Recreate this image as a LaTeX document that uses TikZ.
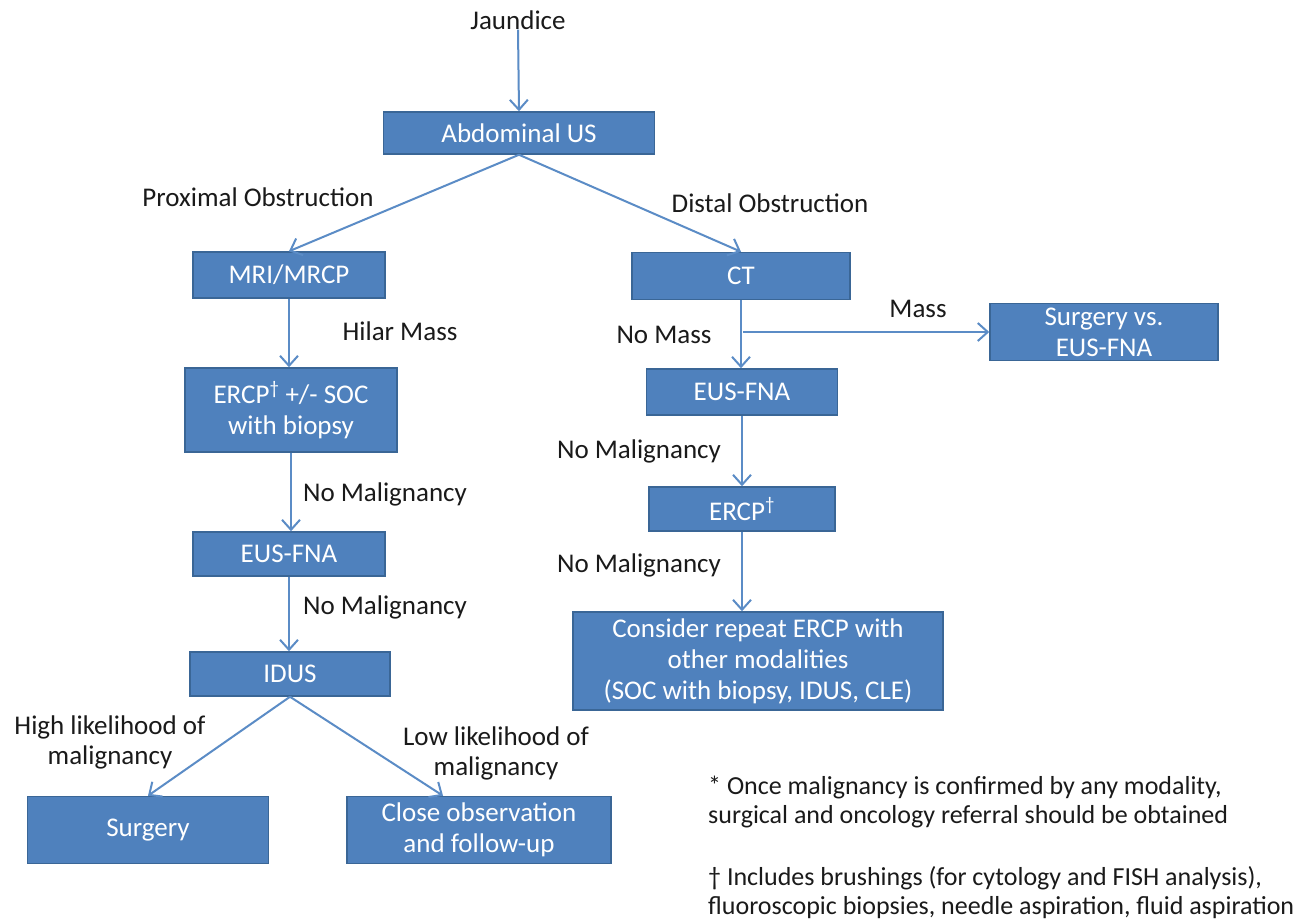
\documentclass[tikz,border=0pt]{standalone}
\usepackage{fontspec}
\setmainfont{Carlito}
\usetikzlibrary{arrows.meta}
\definecolor{boxfill}{HTML}{4F81BD}
\definecolor{boxline}{HTML}{3A6696}
\definecolor{arrowcol}{HTML}{5B8CC6}
\definecolor{labcol}{HTML}{1A1A1A}
\tikzset{
  flowbox/.style={draw=boxline, line width=1.5pt, fill=boxfill, text=white,
    inner sep=0pt, align=center, font=\fontsize{27}{31}\selectfont},
  lab/.style={text=labcol, inner sep=0pt, align=center, font=\fontsize{27}{30}\selectfont},
  note/.style={text=labcol, inner sep=0pt, align=left, anchor=west, font=\fontsize{26}{30}\selectfont},
  conn/.style={draw=arrowcol, line width=2pt, -{Straight Barb[length=10pt,width=18pt,line width=2pt]}},
  plain/.style={draw=arrowcol, line width=2pt}
}
\begin{document}
\begin{tikzpicture}[x=1pt,y=-1pt]
\useasboundingbox[fill=white] (0,0) rectangle (1296,922);
% title
\node[lab] (jaund) at (518,20) {Jaundice};
% boxes
\node[flowbox, minimum width=271pt, minimum height=42pt] (abd) at (519,133) {Abdominal US};
\node[flowbox, minimum width=192pt, minimum height=46pt] (mri) at (289,275) {MRI/MRCP};
\node[flowbox, minimum width=218pt, minimum height=47pt] (ct) at (741,276) {CT};
\node[flowbox, minimum width=212pt, minimum height=84pt] (ercpl) at (291,410) {ERCP\textsuperscript{†} +/- SOC\\with biopsy};
\node[flowbox, minimum width=192pt, minimum height=44pt] (eusl) at (289,554) {EUS-FNA};
\node[flowbox, minimum width=200pt, minimum height=44pt] (idus) at (290,674) {IDUS};
\node[flowbox, minimum width=241pt, minimum height=67pt] (surg) at (148,830) {Surgery};
\node[flowbox, minimum width=264pt, minimum height=67pt] (close) at (479,830) {Close observation\\and follow-up};
\node[flowbox, minimum width=228pt, minimum height=57pt] (svs) at (1104,332) {Surgery vs.\\EUS-FNA};
\node[flowbox, minimum width=191pt, minimum height=46pt] (eusr) at (742,392) {EUS-FNA};
\node[flowbox, minimum width=186pt, minimum height=44pt] (ercpr) at (742,509) {ERCP\textsuperscript{†}};
\node[flowbox, minimum width=370pt, minimum height=98pt] (cons) at (758,661) {Consider repeat ERCP with\\other modalities\\(SOC with biopsy, IDUS, CLE)};
% labels
\node[lab] (lprox) at (258,197) {Proximal Obstruction};
\node[lab] (ldist) at (770,203) {Distal Obstruction};
\node[lab] (lhilar) at (400,331) {Hilar Mass};
\node[lab] (lnomass) at (664,335) {No Mass};
\node[lab] (lmass) at (918,309) {Mass};
\node[lab] (lnm1) at (385,494) {No Malignancy};
\node[lab] (lnm2) at (385,607) {No Malignancy};
\node[lab] (lnm3) at (639,451) {No Malignancy};
\node[lab] (lnm4) at (639,565) {No Malignancy};
\node[lab] (lhigh) at (110,742) {High likelihood of\\malignancy};
\node[lab] (llow) at (496,753) {Low likelihood of\\malignancy};
% footnotes
\node[note] (n1a) at (708,787) {* Once malignancy is confirmed by any modality,};
\node[note] (n1b) at (708,817) {surgical and oncology referral should be obtained};
\node[note] (n2a) at (708,878) {† Includes brushings (for cytology and FISH analysis),};
\node[note] (n2b) at (708,908) {fluoroscopic biopsies, needle aspiration, fluid aspiration};
% connectors
\draw[conn] (jaund.south) -- (abd.north);
\draw[conn] (abd.south) -- (mri.north);
\draw[conn] (abd.south) -- (ct.north);
\draw[conn] (mri.south) -- (mri.south |- ercpl.north);
\draw[conn] (ercpl.south) -- (ercpl.south |- eusl.north);
\draw[conn] (eusl.south) -- (eusl.south |- idus.north);
\draw[conn] (idus.south) -- (surg.north);
\draw[conn] (idus.south) -- ([xshift=-36pt]close.north);
\coordinate (mb) at (ct.south |- svs.west);
\draw[conn] (ct.south) -- (ct.south |- eusr.north);
\draw[conn] ([xshift=2pt]mb) -- (svs.west);
\draw[conn] (eusr.south) -- (eusr.south |- ercpr.north);
\draw[conn] (ercpr.south) -- (ercpr.south |- cons.north);
\end{tikzpicture}
\end{document}
